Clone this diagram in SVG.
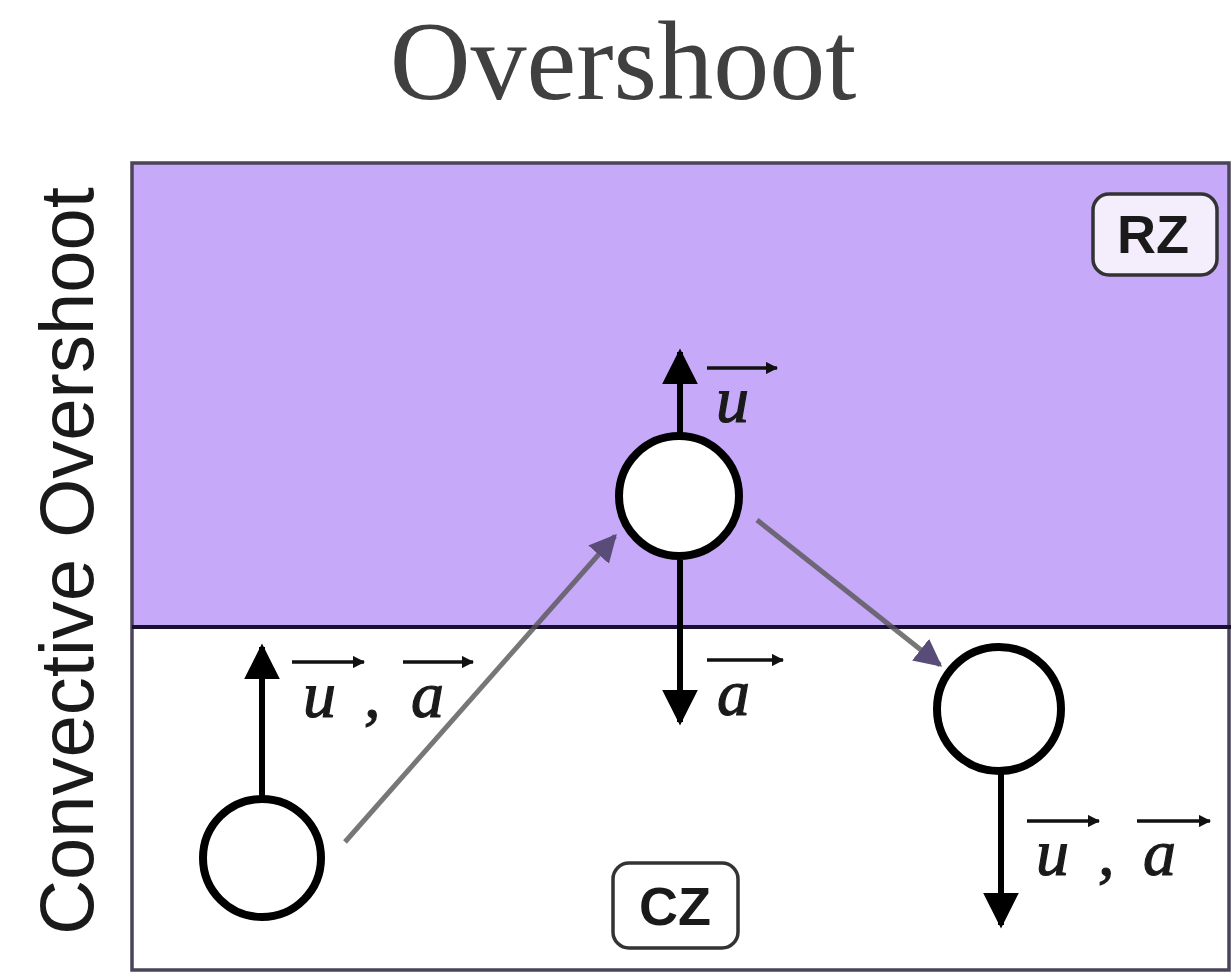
<svg xmlns="http://www.w3.org/2000/svg" width="1231" height="973" viewBox="0 0 1231 973">
<style>
.title{font-family:"Liberation Serif","Times New Roman",serif;font-size:112px;fill:#404040}
.side{font-family:"Liberation Sans",Arial,sans-serif;font-size:76px;fill:#1a1a1a}
.tag{font-family:"Liberation Sans",Arial,sans-serif;font-size:54px;font-weight:bold;fill:#1a1a1a;text-anchor:middle}
.vec{font-family:"Liberation Serif","Times New Roman",serif;font-size:66px;font-style:italic;fill:#1a1a1a;stroke:#1a1a1a;stroke-width:1.2}
.ball{fill:#ffffff;stroke:#000;stroke-width:8}
.force{stroke:#000;stroke-width:6;fill:none}
.path{stroke:#555;stroke-opacity:0.8;stroke-width:5;fill:none}
.over{stroke:#111;stroke-width:3.5;fill:none}
.box{stroke:#333;stroke-width:3.5}
</style>
<defs>
<marker id="blk" viewBox="0 0 10 10" refX="9" refY="5" markerWidth="6" markerHeight="6" markerUnits="strokeWidth" orient="auto">
<path d="M0,0 L10,5 L0,10 Z" fill="#000"/>
</marker>
<marker id="gry" viewBox="0 0 10 10" refX="9" refY="5" markerWidth="5.5" markerHeight="5.5" markerUnits="strokeWidth" orient="auto">
<path d="M0,0 L10,5 L0,10 Z" fill="#5a4c78"/>
</marker>
<marker id="sm" viewBox="0 0 10 10" refX="9" refY="5" markerWidth="3.5" markerHeight="3.5" markerUnits="strokeWidth" orient="auto">
<path d="M0,0 L10,5 L0,10 Z" fill="#111"/>
</marker>
</defs>
<rect width="1231" height="973" fill="#ffffff"/>
<text class="title" x="623" y="99" text-anchor="middle">Overshoot</text>
<text class="side" transform="translate(93,561) rotate(-90)" text-anchor="middle">Convective Overshoot</text>
<g id="zones">
<rect x="132" y="163" width="1097" height="464" fill="#c7a9f9"/>
<rect x="132" y="627" width="1097" height="343" fill="#ffffff"/>
<path d="M132,970 L132,163 L1229,163 L1229,970 Z" fill="none" stroke="#4a4458" stroke-width="3.5"/>
<line x1="132" y1="627" x2="1231" y2="627" stroke="#1a1030" stroke-width="4"/>
</g>
<g id="connectors">
<line class="path" x1="345" y1="842" x2="615" y2="536" marker-end="url(#gry)"/>
<line class="path" x1="757" y1="520" x2="940" y2="665" marker-end="url(#gry)"/>
<line class="force" x1="262" y1="798" x2="262" y2="647" marker-end="url(#blk)"/>
<line class="force" x1="680" y1="434" x2="680" y2="352" marker-end="url(#blk)"/>
<line class="force" x1="680" y1="560" x2="680" y2="722" marker-end="url(#blk)"/>
<line class="force" x1="1001" y1="773" x2="1001" y2="925" marker-end="url(#blk)"/>
</g>
<g id="rz">
<rect class="box" x="1093" y="194" width="124" height="81" rx="16" fill="#f4eefc"/>
<text class="tag" x="1153" y="253">RZ</text>
</g>
<g id="cz">
<rect class="box" x="613" y="863" width="125" height="85" rx="16" fill="#ffffff"/>
<text class="tag" x="675" y="925">CZ</text>
</g>
<g id="parcel-start">
<circle class="ball" cx="262" cy="858" r="59"/>
</g>
<g id="parcel-top">
<circle class="ball" cx="679" cy="496" r="60"/>
</g>
<g id="parcel-end">
<circle class="ball" cx="999" cy="709" r="62"/>
</g>
<g id="label-left">
<text class="vec" x="303" y="717">u</text>
<text class="vec" x="364" y="717" font-style="normal">,</text>
<text class="vec" x="411" y="717">a</text>
<line class="over" x1="292" y1="662" x2="364" y2="662" marker-end="url(#sm)"/>
<line class="over" x1="403" y1="662" x2="473" y2="662" marker-end="url(#sm)"/>
</g>
<g id="label-top">
<text class="vec" x="716" y="422">u</text>
<line class="over" x1="707" y1="368" x2="777" y2="368" marker-end="url(#sm)"/>
</g>
<g id="label-mid">
<text class="vec" x="717" y="715">a</text>
<line class="over" x1="707" y1="660" x2="783" y2="660" marker-end="url(#sm)"/>
</g>
<g id="label-right">
<text class="vec" x="1036" y="875">u</text>
<text class="vec" x="1098" y="875" font-style="normal">,</text>
<text class="vec" x="1143" y="875">a</text>
<line class="over" x1="1027" y1="821" x2="1099" y2="821" marker-end="url(#sm)"/>
<line class="over" x1="1137" y1="821" x2="1210" y2="821" marker-end="url(#sm)"/>
</g>
</svg>
